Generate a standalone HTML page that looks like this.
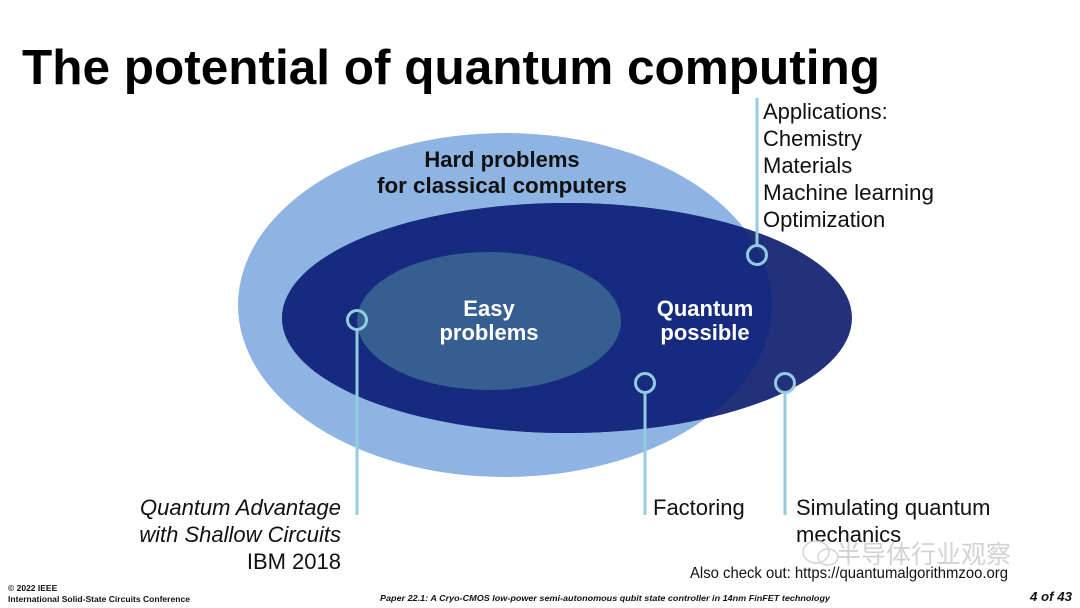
<!DOCTYPE html>
<html>
<head>
<meta charset="utf-8">
<style>
  html, body { margin:0; padding:0; background:#fff; }
  body { width:1080px; height:608px; overflow:hidden; }
  svg { display:block; }
  text { font-family: "Liberation Sans", Arial, sans-serif; }
</style>
</head>
<body>
<svg width="1080" height="608" viewBox="0 0 1080 608" xmlns="http://www.w3.org/2000/svg">
  <defs>
    <clipPath id="lightClip">
      <ellipse cx="505" cy="305" rx="267" ry="172"/>
    </clipPath>
  </defs>

  <!-- Title -->
  <text x="22" y="84" font-size="49.5" font-weight="bold" fill="#000" textLength="858" lengthAdjust="spacingAndGlyphs">The potential of quantum computing</text>

  <!-- Light outer ellipse -->
  <ellipse cx="505" cy="305" rx="267" ry="172" fill="#8eb4e3"/>
  <!-- Dark ellipse (outside light region) -->
  <ellipse cx="567" cy="318" rx="285" ry="115" fill="#23317d"/>
  <!-- Dark ellipse (inside light region) -->
  <ellipse cx="567" cy="318" rx="285" ry="115" fill="#162a80" clip-path="url(#lightClip)"/>
  <!-- Easy ellipse -->
  <ellipse cx="489" cy="321" rx="132" ry="69" fill="#365f91"/>

  <!-- Ellipse labels -->
  <text x="502" y="167" font-size="22" font-weight="bold" fill="#111" text-anchor="middle">Hard problems</text>
  <text x="502" y="193" font-size="22" font-weight="bold" fill="#111" text-anchor="middle" textLength="250" lengthAdjust="spacingAndGlyphs">for classical computers</text>

  <text x="489" y="316" font-size="22" font-weight="bold" fill="#fff" text-anchor="middle">Easy</text>
  <text x="489" y="340" font-size="22" font-weight="bold" fill="#fff" text-anchor="middle">problems</text>

  <text x="705" y="316" font-size="22" font-weight="bold" fill="#fff" text-anchor="middle">Quantum</text>
  <text x="705" y="340" font-size="22" font-weight="bold" fill="#fff" text-anchor="middle">possible</text>

  <!-- Connectors -->
  <g stroke="#93cddd" stroke-width="3" fill="none">
    <line x1="357" y1="330" x2="357" y2="515"/>
    <circle cx="357" cy="320" r="9.5"/>

    <line x1="757" y1="98" x2="757" y2="245"/>
    <circle cx="757" cy="255" r="9.5"/>

    <line x1="645" y1="393" x2="645" y2="515"/>
    <circle cx="645" cy="383" r="9.5"/>

    <line x1="785" y1="393" x2="785" y2="515"/>
    <circle cx="785" cy="383" r="9.5"/>
  </g>

  <!-- Applications -->
  <g font-size="22" fill="#111">
    <text x="763" y="119">Applications:</text>
    <text x="763" y="146">Chemistry</text>
    <text x="763" y="173">Materials</text>
    <text x="763" y="200" textLength="171" lengthAdjust="spacingAndGlyphs">Machine learning</text>
    <text x="763" y="227">Optimization</text>
  </g>

  <!-- Bottom-left -->
  <g font-size="22" fill="#111" text-anchor="end">
    <text x="341" y="515" font-style="italic">Quantum Advantage</text>
    <text x="341" y="542" font-style="italic">with Shallow Circuits</text>
    <text x="341" y="569">IBM 2018</text>
  </g>

  <!-- Bottom-right labels -->
  <g font-size="22" fill="#111">
    <text x="653" y="515">Factoring</text>
    <text x="796" y="515">Simulating quantum</text>
    <text x="796" y="542">mechanics</text>
  </g>

  <!-- Watermark -->
  <g fill="none" stroke="#cfcfcf" stroke-width="1.5" opacity="0.9">
    <ellipse cx="816" cy="552" rx="13" ry="11"/>
    <ellipse cx="828" cy="557" rx="10" ry="8"/>
  </g>
  <text x="836" y="563" font-size="25" fill="#d2d2d2" textLength="175" lengthAdjust="spacingAndGlyphs" style="font-family:'Liberation Sans','Noto Sans CJK SC',sans-serif;">半导体行业观察</text>

  <!-- Also check out -->
  <text x="690" y="578" font-size="16" fill="#111" textLength="318" lengthAdjust="spacingAndGlyphs">Also check out: https://quantumalgorithmzoo.org</text>

  <!-- Footer -->
  <text x="8" y="591" font-size="8.5" font-weight="bold" fill="#111">© 2022 IEEE</text>
  <text x="8" y="602" font-size="8.5" font-weight="bold" fill="#111" textLength="182" lengthAdjust="spacingAndGlyphs">International Solid-State Circuits Conference</text>
  <text x="380" y="601" font-size="8.5" font-weight="bold" font-style="italic" fill="#111" textLength="450" lengthAdjust="spacingAndGlyphs">Paper 22.1: A Cryo-CMOS low-power semi-autonomous qubit state controller in 14nm FinFET technology</text>
  <text x="1030" y="601" font-size="13" font-weight="bold" font-style="italic" fill="#111" textLength="42" lengthAdjust="spacingAndGlyphs">4 of 43</text>
</svg>
</body>
</html>
